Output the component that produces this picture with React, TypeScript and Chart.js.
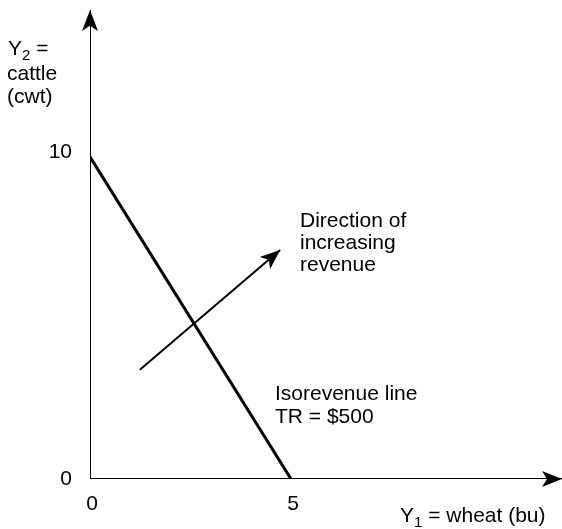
import React, { useEffect, useRef } from "react";
import { Chart, registerables } from "chart.js";

Chart.register(...registerables);

// Isorevenue line TR = $500 : Y1 (wheat, bu) vs Y2 (cattle, cwt)
const isoWheat = [0, 5];
const isoCattle = [10, 0];
// direction of increasing revenue arrow (start -> tip)
const dirWheat = [1.24, 4.73];
const dirCattle = [3.39, 7.11];
// axis extents
const xAxisMax = 11.74;
const yAxisMax = 14.56;
// tick labels
const xTicks = [0, 5];
const yTicks = [0, 10];
const yTickOffsets = [6, 1];

const FONT = '"Liberation Sans", Arial, Helvetica, sans-serif';

function drawArrowHead(ctx: CanvasRenderingContext2D, x0: number, y0: number, x1: number, y1: number, len: number, half: number) {
  const ang = Math.atan2(y1 - y0, x1 - x0);
  const c = Math.cos(ang), s = Math.sin(ang);
  const px = (a: number, b: number) => [x1 + a * c - b * s, y1 + a * s + b * c];
  const [bx1, by1] = px(-len, half);
  const [nx, ny] = px(-len * 0.75, 0);
  const [bx2, by2] = px(-len, -half);
  ctx.beginPath();
  ctx.moveTo(x1, y1);
  ctx.lineTo(bx1, by1);
  ctx.lineTo(nx, ny);
  ctx.lineTo(bx2, by2);
  ctx.closePath();
  ctx.fill();
}

const decorPlugin = {
  id: "decor",
  afterDatasetsDraw(chart: any) {
    const ctx: CanvasRenderingContext2D = chart.ctx;
    const xs = chart.scales.x;
    const ys = chart.scales.y;
    const X = (v: number) => xs.getPixelForValue(v);
    const Y = (v: number) => ys.getPixelForValue(v);
    ctx.save();
    ctx.fillStyle = "#000";
    // arrowheads
    drawArrowHead(ctx, X(0), Y(0), X(xAxisMax), Y(0), 20, 8);
    drawArrowHead(ctx, X(0), Y(0), X(0), Y(yAxisMax), 21, 8);
    drawArrowHead(ctx, X(dirWheat[0]), Y(dirCattle[0]), X(dirWheat[1]), Y(dirCattle[1]), 20, 8);

    ctx.font = `21px ${FONT}`;
    ctx.textBaseline = "alphabetic";
    // y tick labels
    ctx.textAlign = "right";
    yTicks.forEach((t, i) => ctx.fillText(String(t), X(0) - 18, Y(t) + yTickOffsets[i]));
    // x tick labels
    ctx.textAlign = "center";
    xTicks.forEach((t) => ctx.fillText(String(t), X(t) + 2, Y(0) + 31));

    // subscripted label helper
    const subLabel = (x: number, y: number, main: string, sub: string, rest: string) => {
      ctx.textAlign = "left";
      ctx.font = `21px ${FONT}`;
      ctx.fillText(main, x, y);
      let w = ctx.measureText(main).width;
      ctx.font = `15px ${FONT}`;
      ctx.fillText(sub, x + w, y + 5);
      w += ctx.measureText(sub).width;
      ctx.font = `21px ${FONT}`;
      ctx.fillText(rest, x + w, y);
    };
    // y axis title
    subLabel(8, 55, "Y", "2", " =");
    ctx.textAlign = "left";
    ctx.fillText("cattle", 7, 80);
    ctx.fillText("(cwt)", 7, 103);
    // x axis title
    subLabel(400, 522, "Y", "1", " = wheat (bu)");

    // annotations
    ctx.font = `21px ${FONT}`;
    ctx.textAlign = "left";
    ["Direction of", "increasing", "revenue"].forEach((l, i) => ctx.fillText(l, 300, 227 + i * 22));
    ["Isorevenue line", "TR = $500"].forEach((l, i) => ctx.fillText(l, 275, 400 + i * 23));
    ctx.restore();
  },
};

export default function App() {
  const ref = useRef<HTMLCanvasElement>(null);
  useEffect(() => {
    document.body.style.margin = "0";
    const pts = (xa: number[], ya: number[]) => xa.map((x, i) => ({ x, y: ya[i] }));
    const chart = new Chart(ref.current!, {
      type: "scatter",
      data: {
        datasets: [
          { data: pts([0, xAxisMax], [0, 0]), showLine: true, borderColor: "#000", borderWidth: 2, pointRadius: 0 },
          { data: pts([0, 0], [0, yAxisMax]), showLine: true, borderColor: "#000", borderWidth: 2, pointRadius: 0 },
          { data: pts(isoWheat, isoCattle), showLine: true, borderColor: "#000", borderWidth: 3, pointRadius: 0 },
          { data: pts(dirWheat, dirCattle), showLine: true, borderColor: "#000", borderWidth: 2, pointRadius: 0 },
        ],
      },
      options: {
        animation: false,
        responsive: false,
        events: [],
        layout: { padding: { left: 90, right: 0, top: 10, bottom: 50 } },
        plugins: { legend: { display: false }, tooltip: { enabled: false } },
        scales: {
          x: { type: "linear", min: 0, max: xAxisMax, display: false },
          y: { type: "linear", min: 0, max: yAxisMax, display: false },
        },
      } as any,
      plugins: [decorPlugin],
    });
    return () => chart.destroy();
  }, []);
  return (
    <div style={{ width: 562, height: 529, background: "#fff" }}>
      <canvas ref={ref} width={562} height={529} style={{ display: "block" }} />
    </div>
  );
}
